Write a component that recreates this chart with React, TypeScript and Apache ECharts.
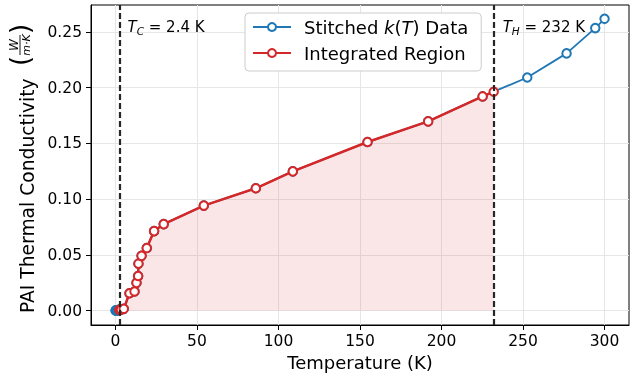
import React, { useEffect, useRef } from 'react';
import * as echarts from 'echarts';

const FONT = 'DejaVu Sans';

// Stitched k(T) data (T in K, k in W/(m·K))
const stitchedT = [0.05, 0.2, 0.4, 0.6, 0.8, 1.0, 1.3, 1.6, 2.0, 2.4, 2.7, 3.0, 3.4, 5.1, 8.6, 11.7, 12.9, 13.9, 14.1, 16.0, 19.2, 23.7, 29.6, 54.2, 86.1, 108.8, 154.6, 191.8, 225.2, 252.6, 276.7, 294.3, 300.0];
const stitchedK = [0.00002, 0.00005, 0.0001, 0.00015, 0.0002, 0.00025, 0.0003, 0.0004, 0.0005, 0.0006, 0.0007, 0.0008, 0.0009, 0.0015, 0.0155, 0.017, 0.0248, 0.031, 0.042, 0.049, 0.056, 0.0712, 0.0775, 0.0941, 0.1096, 0.1248, 0.1511, 0.1696, 0.192, 0.209, 0.2306, 0.2533, 0.2616];

// Integration limits
const Tc = 2.4;
const Th = 232;
const kAtTh = 0.1962;

// Tick values
const xTicks = [0, 50, 100, 150, 200, 250, 300];
const yTicks = [0, 0.05, 0.1, 0.15, 0.2, 0.25];

const BLUE = '#1f77b4';
const RED = '#d62728';

export default function App() {
  const ref = useRef<HTMLDivElement>(null);
  useEffect(() => {
    const chart = echarts.init(ref.current!, null, { renderer: 'svg' });
    const stitched = stitchedT.map((t, i) => [t, stitchedK[i]]);
    const integrated = stitched.filter((p) => p[0] >= Tc && p[0] <= Th);
    integrated.push([Th, kAtTh]);

    chart.setOption({
      animation: false,
      grid: { left: 91, right: 12, top: 5, bottom: 52, show: true, borderColor: '#000', borderWidth: 1, backgroundColor: 'transparent' },
      xAxis: {
        type: 'value', min: -15, max: 315,
        axisLine: { show: true, onZero: false, lineStyle: { color: '#000', width: 1 } },
        axisTick: { show: true, inside: false, length: 5, customValues: xTicks, lineStyle: { color: '#000' } },
        axisLabel: { customValues: xTicks, fontSize: 15.5, fontFamily: FONT, color: '#000', margin: 8 },
        splitLine: { show: true, lineStyle: { color: '#e6e6e6', width: 1 } },
        name: 'Temperature (K)', nameLocation: 'middle', nameGap: 28,
        nameTextStyle: { fontSize: 18, fontFamily: FONT, color: '#000' },
      },
      yAxis: {
        type: 'value', min: -0.013, max: 0.274,
        axisLine: { show: true, onZero: false, lineStyle: { color: '#000', width: 1 } },
        axisTick: { show: true, inside: false, length: 5, customValues: yTicks, lineStyle: { color: '#000' } },
        axisLabel: { customValues: yTicks, fontSize: 15.5, fontFamily: FONT, color: '#000', margin: 9, formatter: (v: number) => v.toFixed(2) },
        splitLine: { show: true, lineStyle: { color: '#e6e6e6', width: 1 } },
      },
      legend: {
        left: 245, top: 13, orient: 'vertical',
        itemWidth: 38, itemHeight: 10, itemGap: 8,
        padding: [5, 13, 9, 7],
        backgroundColor: '#fff', borderColor: '#cccccc', borderWidth: 1, borderRadius: 4,
        textStyle: {
          fontSize: 18, fontFamily: FONT, color: '#000', padding: [0, 0, 0, 8],
          rich: { i: { fontSize: 18, fontFamily: FONT, fontStyle: 'italic', color: '#000' } },
        },
        formatter: (name: string) => (name === 'Stitched k(T) Data' ? 'Stitched {i|k}({i|T}) Data' : name),
        data: ['Stitched k(T) Data', 'Integrated Region'],
      },
      series: [
        {
          name: 'Stitched k(T) Data', type: 'line', data: stitched, z: 2,
          symbol: 'circle', symbolSize: 8.5, showSymbol: true,
          lineStyle: { color: BLUE, width: 1.8 },
          itemStyle: { color: '#fff', borderColor: BLUE, borderWidth: 2 },
        },
        {
          name: 'Integrated Region', type: 'line', data: integrated, z: 3,
          symbol: 'circle', symbolSize: 8.5, showSymbol: true,
          lineStyle: { color: RED, width: 2.5 },
          itemStyle: { color: '#fff', borderColor: RED, borderWidth: 2 },
          areaStyle: { color: 'rgba(214,39,40,0.17)' },
          markLine: {
            silent: true, symbol: ['none', 'none'], label: { show: false }, z: 10,
            lineStyle: { color: '#262626', width: 2.2, type: [6, 3] },
            data: [{ xAxis: Tc }, { xAxis: Th }],
          },
        },
      ],
    });

    const pC = chart.convertToPixel({ gridIndex: 0 }, [Tc + 5, 0.254]) as number[];
    const pH = chart.convertToPixel({ gridIndex: 0 }, [Th + 5.5, 0.254]) as number[];
    const rich = {
      it: { fontSize: 15, fontFamily: FONT, fontStyle: 'italic', fill: '#000' },
      sub: { fontSize: 10.5, fontFamily: FONT, fontStyle: 'italic', fill: '#000', padding: [7, 0, 0, 0] },
      n: { fontSize: 15, fontFamily: FONT, fill: '#000' },
    };
    chart.setOption({
      graphic: [
        { type: 'text', x: pC[0], y: pC[1], z: 20, style: { text: '{it|T}{sub|C}{n| = 2.4 K}', rich, verticalAlign: 'middle', align: 'left' } },
        { type: 'text', x: pH[0], y: pH[1], z: 20, style: { text: '{it|T}{sub|H}{n| = 232 K}', rich, verticalAlign: 'middle', align: 'left' } },
        {
          type: 'group', x: 27, y: 313, rotation: Math.PI / 2, z: 20,
          children: [
            { type: 'text', x: 0, y: 0, style: { text: 'PAI Thermal Conductivity', fontSize: 18.7, fontFamily: FONT, fill: '#000', align: 'left', verticalAlign: 'middle' } },
            { type: 'text', x: 252, y: -7, style: { text: '(', fontSize: 26, fontFamily: FONT, fill: '#000', align: 'center', verticalAlign: 'middle' } },
            { type: 'text', x: 268, y: -13, style: { text: 'W', fontSize: 12, fontFamily: FONT, fontStyle: 'italic', fill: '#000', align: 'center', verticalAlign: 'middle' } },
            { type: 'line', shape: { x1: 258, y1: -7, x2: 278, y2: -7 }, style: { stroke: '#000', lineWidth: 0.9 } },
            { type: 'text', x: 268, y: -1, style: { text: 'm·K', fontSize: 11, fontFamily: FONT, fontStyle: 'italic', fill: '#000', align: 'center', verticalAlign: 'middle' } },
            { type: 'text', x: 284, y: -7, style: { text: ')', fontSize: 26, fontFamily: FONT, fill: '#000', align: 'center', verticalAlign: 'middle' } },
          ],
        },
      ],
    });
    return () => chart.dispose();
  }, []);
  return <div ref={ref} style={{ position: 'fixed', left: 0, top: 0, width: 641, height: 377 }} />;
}
